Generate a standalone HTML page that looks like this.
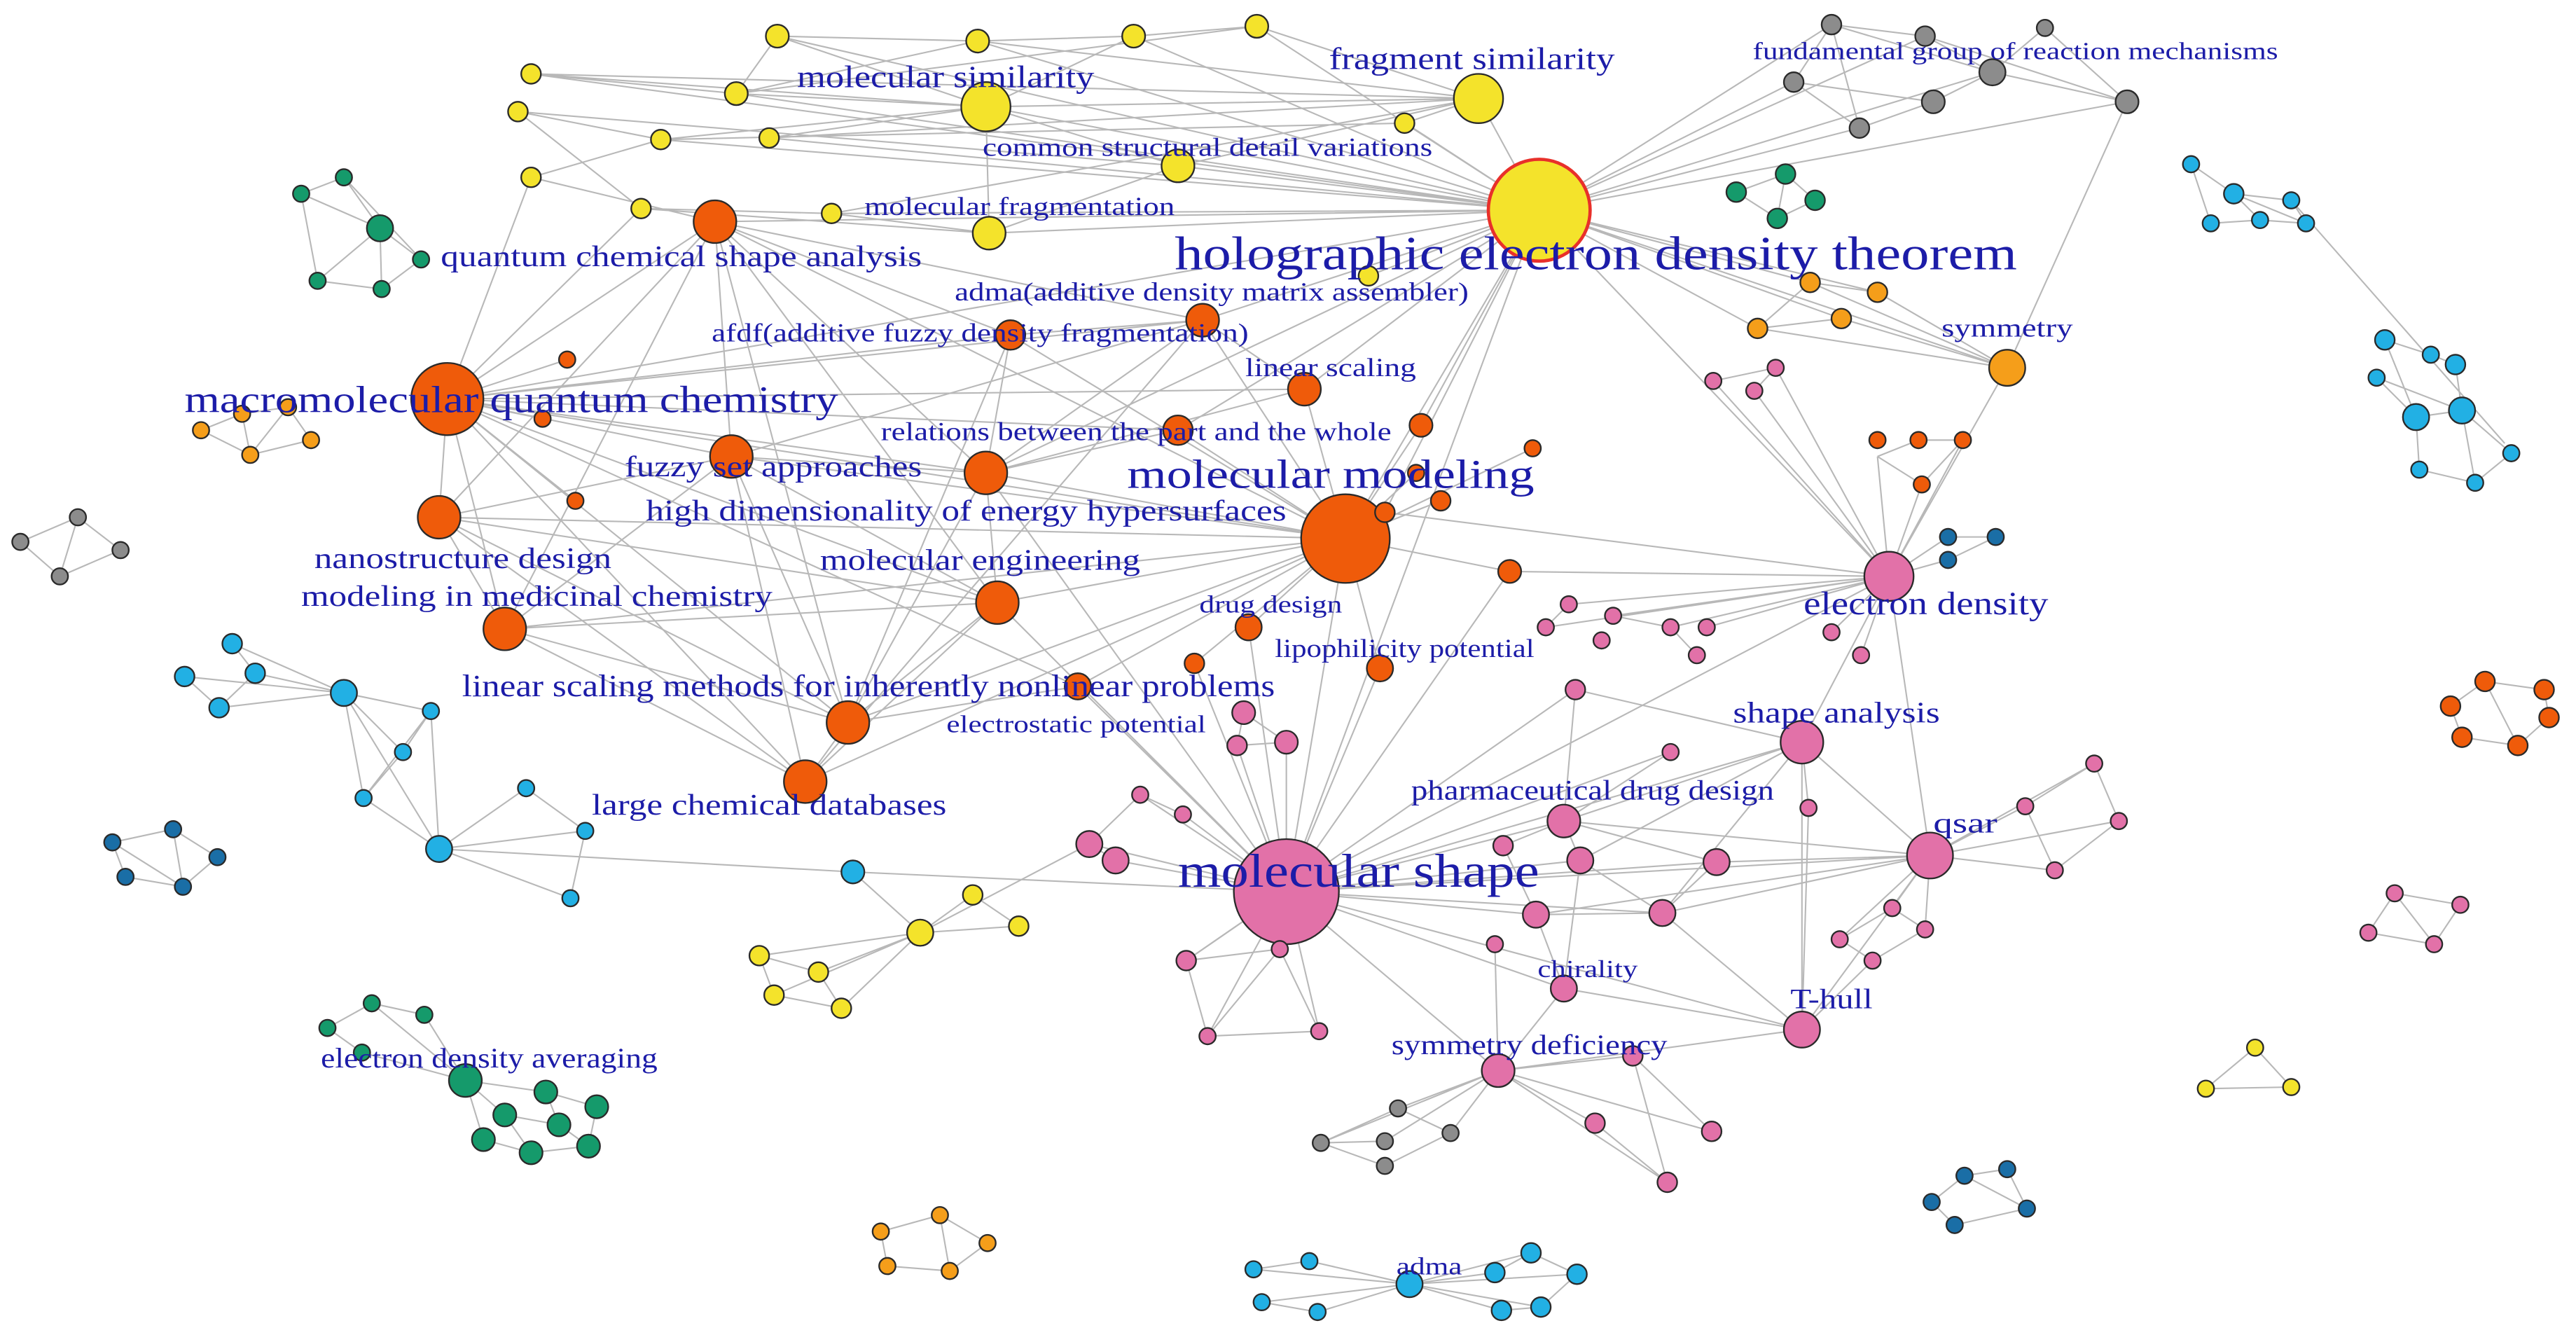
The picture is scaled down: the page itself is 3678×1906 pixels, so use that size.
<!DOCTYPE html>
<html><head><meta charset="utf-8"><style>
html,body{margin:0;padding:0;background:#fff;}
svg{display:block;}
text{font-family:"Liberation Serif",serif;fill:#1c1ca8;}
</style></head><body>
<svg width="3678" height="1906" viewBox="0 0 1568 813" xmlns="http://www.w3.org/2000/svg">
<g stroke="#b8b8b8" stroke-width="0.9" fill="none">
<path d="M937 128L473 22M937 128L595 25M937 128L690 22M937 128L765 16M937 128L600 65M937 128L900 60M937 128L717 101M937 128L855 75M937 128L602 142M937 128L506 130M937 128L448 57M937 128L1115 15M937 128L1172 22M937 128L1213 44M937 128L1295 62M937 128L1092 50M937 128L1132 78M937 128L1222 224M937 128L1102 172M937 128L1143 178M937 128L1070 200M937 128L1121 194M937 128L819 328M937 128L794 237M937 128L732 195M937 128L717 262M937 128L865 259M937 128L435 135M937 128L272 243M937 128L600 288M937 128L1150 351M937 128L843 312M937 128L402 85M937 128L468 84M937 128L833 168M937 128L323 45"/>
<path d="M473 22L595 25M595 25L690 22M690 22L765 16M473 22L448 57M448 57L600 65M600 65L900 60M323 45L448 57M323 45L600 65M315 68L402 85M402 85L600 65M468 84L600 65M600 65L717 101M717 101L900 60M900 60L855 75M765 16L900 60M595 25L900 60M473 22L600 65M315 68L390 127M390 127L506 130M506 130L602 142M602 142L717 101M323 108L435 135M323 108L402 85M390 127L602 142M448 57L765 16M323 45L900 60M315 68L717 101M402 85L855 75M468 84L900 60M506 130L900 60M600 65L602 142M690 22L600 65M595 25L448 57"/>
<path d="M1115 15L1172 22M1172 22L1213 44M1213 44L1245 17M1245 17L1295 62M1213 44L1295 62M1092 50L1132 78M1132 78L1177 62M1177 62L1213 44M1115 15L1132 78M1092 50L1177 62M1172 22L1295 62M1295 62L1222 224M1115 15L1213 44M1092 50L1115 15"/>
<path d="M1102 172L1143 178M1070 200L1121 194M1102 172L1222 224M1143 178L1222 224M1121 194L1222 224M1070 200L1222 224M1102 172L1070 200"/>
<path d="M1087 106L1057 117M1087 106L1105 122M1057 117L1082 133M1105 122L1082 133M1087 106L1082 133"/>
<path d="M272 243L435 135M272 243L267 315M272 243L445 278M272 243L600 288M272 243L307 383M272 243L607 367M272 243L615 204M272 243L516 440M272 243L490 476M272 243L819 328M272 243L732 195M272 243L345 219M272 243L330 255M272 243L350 305M272 243L717 262M272 243L656 418M272 243L794 237M272 243L390 127M272 243L323 108"/>
<path d="M435 135L615 204M435 135L445 278M435 135L307 383M435 135L600 288M435 135L516 440M435 135L819 328M435 135L732 195M435 135L607 367M267 315L445 278M267 315L490 476M267 315L516 440M267 315L607 367M267 315L819 328M307 383L490 476M307 383L516 440M307 383L607 367M307 383L819 328M307 383L445 278M445 278L600 288M445 278L516 440M445 278L490 476M445 278L819 328M445 278L607 367M600 288L607 367M600 288L819 328M600 288L516 440M600 288L732 195M607 367L819 328M607 367L516 440M607 367L490 476M516 440L819 328M490 476L819 328M615 204L732 195M615 204L819 328M732 195L794 237M732 195L819 328M794 237L819 328M717 262L819 328M865 259L819 328M877 305L819 328M919 348L819 328M760 382L819 328M840 407L819 328M727 404L819 328M656 418L819 328M862 288L819 328M933 273L819 328M615 204L600 288M717 262L600 288M732 195L445 278M794 237L600 288M656 418L516 440M490 476L516 440M267 315L435 135M307 383L267 315M615 204L516 440M732 195L490 476"/>
<path d="M783 543L819 328M783 543L600 288M783 543L607 367M783 543L760 382M783 543L727 404M783 543L656 418M783 543L840 407M783 543L1150 351M783 543L1097 452M783 543L1175 521M783 543L1097 627M783 543L952 602M783 543L912 652M783 543L952 500M783 543L962 524M783 543L935 557M783 543L1012 556M783 543L1045 525M783 543L663 514M783 543L679 524M783 543L694 484M783 543L720 496M783 543L722 585M783 543L735 631M783 543L803 628M783 543L779 578M783 543L753 454M783 543L783 452M783 543L919 348M783 543L937 128M783 543L959 420M783 543L1017 458M783 543L519 531"/>
<path d="M783 543L722 585M722 585L735 631M735 631L803 628M779 578L803 628M722 585L779 578M735 631L779 578"/>
<path d="M1150 351L1097 452M1150 351L1175 521M1150 351L1043 232M1150 351L1068 238M1150 351L1081 224M1150 351L941 382M1150 351L955 368M1150 351L982 375M1150 351L1017 382M1150 351L1039 382M1150 351L1143 278M1150 351L1170 295M1150 351L1195 268M1150 351L1186 327M1150 351L1186 341M1150 351L1222 224M1150 351L1115 385M1150 351L1133 399M1150 351L843 312M1150 351L919 348M1097 452L1175 521M1097 452L952 500M1097 452L1097 627M1097 452L962 524M1097 452L1012 556M1097 452L959 420M1097 452L1101 492M1175 521L952 500M1175 521L1097 627M1175 521L1012 556M1175 521L1045 525M1175 521L1233 491M1175 521L1275 465M1175 521L1251 530M1175 521L1290 500M1175 521L1152 553M1175 521L1172 566M1175 521L1120 572M1175 521L935 557M1097 627L952 602M1097 627L912 652M1097 627L1140 585M1097 627L1012 556M1097 627L1101 492M952 602L912 652M952 602L935 557M952 602L962 524M912 652L994 643M912 652L971 684M912 652L1015 720M912 652L1042 689M912 652L843 695M912 652L883 690M912 652L851 675M912 652L804 696M912 652L910 575M994 643L1042 689M994 643L1015 720M971 684L1015 720M843 695L804 696M883 690L851 675M883 690L843 710M843 710L804 696M851 675L804 696M1233 491L1275 465M1275 465L1290 500M1251 530L1290 500M1233 491L1251 530M1152 553L1172 566M1120 572L1140 585M1140 585L1172 566M1152 553L1120 572M952 500L1045 525M952 500L962 524M962 524L1012 556M935 557L1012 556M1045 525L1012 556M915 515L952 500M915 515L935 557M1017 458L952 500M959 420L952 500M1043 232L1081 224M1068 238L1081 224M941 382L955 368M982 375L1017 382M1033 399L1017 382M1143 278L1170 295M1170 295L1195 268M1195 268L1168 268M1143 278L1168 268M1186 327L1215 327M1186 341L1215 327M663 514L694 484M694 484L720 496M679 524L663 514M753 454L783 452M757 434L753 454M757 434L783 452"/>
<path d="M560 568L592 545M560 568L620 564M560 568L519 531M560 568L462 582M560 568L498 592M560 568L471 606M560 568L512 614M462 582L498 592M498 592L512 614M471 606L512 614M462 582L471 606M592 545L620 564M560 568L663 514"/>
<path d="M209 422L141 392M209 422L155 410M209 422L112 412M209 422L133 431M209 422L262 433M209 422L245 458M209 422L221 486M209 422L267 517M141 392L155 410M112 412L133 431M155 410L133 431M262 433L245 458M245 458L221 486M221 486L267 517M267 517L320 480M267 517L356 506M267 517L347 547M267 517L519 531M320 480L356 506M356 506L347 547M262 433L267 517M262 433L221 486"/>
<path d="M209 108L183 118M209 108L231 139M231 139L193 171M231 139L232 176M231 139L256 158M183 118L193 171M193 171L232 176M256 158L232 176M209 108L256 158M183 118L231 139"/>
<path d="M147 252L122 262M147 252L175 248M175 248L189 268M122 262L152 277M152 277L189 268M147 252L152 277M175 248L152 277"/>
<path d="M12 330L47 315M47 315L73 335M12 330L36 351M36 351L73 335M47 315L36 351"/>
<path d="M68 513L105 505M105 505L132 522M68 513L76 534M76 534L111 540M111 540L132 522M105 505L111 540M68 513L111 540"/>
<path d="M199 626L226 611M226 611L258 618M199 626L220 641M220 641L283 658M258 618L283 658M283 658L307 679M283 658L332 665M283 658L294 694M307 679L340 685M332 665L363 674M340 685L358 698M294 694L323 702M323 702L358 698M363 674L358 698M307 679L323 702M332 665L340 685M226 611L283 658"/>
<path d="M536 750L572 740M572 740L601 757M536 750L540 771M540 771L578 774M578 774L601 757M572 740L578 774"/>
<path d="M858 782L797 768M858 782L763 773M858 782L768 793M858 782L802 799M858 782L910 775M858 782L932 763M858 782L960 776M858 782L914 798M858 782L938 796M763 773L797 768M768 793L802 799M910 775L932 763M932 763L960 776M914 798L938 796M938 796L960 776"/>
<path d="M1196 716L1222 712M1222 712L1234 736M1176 732L1190 746M1190 746L1234 736M1176 732L1196 716M1196 716L1234 736"/>
<path d="M1373 638L1343 663M1373 638L1395 662M1343 663L1395 662"/>
<path d="M1442 568L1458 544M1458 544L1498 551M1442 568L1482 575M1482 575L1498 551M1458 544L1482 575"/>
<path d="M1513 415L1492 430M1513 415L1549 420M1492 430L1499 449M1499 449L1533 454M1533 454L1552 437M1549 420L1552 437M1513 415L1533 454"/>
<path d="M1334 100L1360 118M1360 118L1395 122M1346 136L1376 134M1395 122L1404 136M1376 134L1404 136M1334 100L1346 136M1360 118L1376 134M1360 118L1404 136M1395 122L1525 270"/>
<path d="M1452 207L1480 216M1480 216L1495 222M1447 230L1471 254M1471 254L1499 250M1499 250L1529 276M1473 286L1507 294M1507 294L1529 276M1452 207L1471 254M1495 222L1499 250M1471 254L1473 286M1499 250L1507 294M1447 230L1499 250"/>
</g>
<g stroke="#2a2a2a" stroke-width="1">
<g fill="#f4e32b">
<circle cx="473" cy="22" r="7"/><circle cx="595" cy="25" r="7"/><circle cx="690" cy="22" r="7"/><circle cx="765" cy="16" r="7"/><circle cx="323" cy="45" r="6"/><circle cx="448" cy="57" r="7"/><circle cx="600" cy="65" r="15"/><circle cx="900" cy="60" r="15"/><circle cx="315" cy="68" r="6"/><circle cx="402" cy="85" r="6"/><circle cx="468" cy="84" r="6"/><circle cx="717" cy="101" r="10"/><circle cx="855" cy="75" r="6"/><circle cx="390" cy="127" r="6"/><circle cx="506" cy="130" r="6"/><circle cx="602" cy="142" r="10"/><circle cx="323" cy="108" r="6"/><circle cx="833" cy="168" r="6"/>
<circle cx="560" cy="568" r="8"/><circle cx="592" cy="545" r="6"/><circle cx="620" cy="564" r="6"/><circle cx="462" cy="582" r="6"/><circle cx="498" cy="592" r="6"/><circle cx="471" cy="606" r="6"/><circle cx="512" cy="614" r="6"/>
<circle cx="1373" cy="638" r="5"/><circle cx="1343" cy="663" r="5"/><circle cx="1395" cy="662" r="5"/>
</g>
<circle cx="937" cy="128" r="31" fill="#f4e32b" stroke="#e8302a" stroke-width="2"/>
<g fill="#ef5b0a">
<circle cx="435" cy="135" r="13"/><circle cx="272" cy="243" r="22"/><circle cx="345" cy="219" r="5"/><circle cx="330" cy="255" r="5"/><circle cx="350" cy="305" r="5"/><circle cx="267" cy="315" r="13"/><circle cx="445" cy="278" r="13"/><circle cx="600" cy="288" r="13"/><circle cx="307" cy="383" r="13"/><circle cx="607" cy="367" r="13"/><circle cx="615" cy="204" r="9"/><circle cx="732" cy="195" r="10"/><circle cx="794" cy="237" r="10"/><circle cx="717" cy="262" r="9"/><circle cx="865" cy="259" r="7"/><circle cx="933" cy="273" r="5"/><circle cx="877" cy="305" r="6"/><circle cx="862" cy="288" r="5"/><circle cx="819" cy="328" r="27"/><circle cx="843" cy="312" r="6"/><circle cx="919" cy="348" r="7"/><circle cx="760" cy="382" r="8"/><circle cx="840" cy="407" r="8"/><circle cx="727" cy="404" r="6"/><circle cx="656" cy="418" r="8"/><circle cx="516" cy="440" r="13"/><circle cx="490" cy="476" r="13"/>
<circle cx="1143" cy="268" r="5"/><circle cx="1168" cy="268" r="5"/><circle cx="1170" cy="295" r="5"/><circle cx="1195" cy="268" r="5"/>
<circle cx="1513" cy="415" r="6"/><circle cx="1549" cy="420" r="6"/><circle cx="1492" cy="430" r="6"/><circle cx="1552" cy="437" r="6"/><circle cx="1499" cy="449" r="6"/><circle cx="1533" cy="454" r="6"/>
</g>
<g fill="#f59e1a">
<circle cx="1102" cy="172" r="6"/><circle cx="1143" cy="178" r="6"/><circle cx="1070" cy="200" r="6"/><circle cx="1121" cy="194" r="6"/><circle cx="1222" cy="224" r="11"/>
<circle cx="147" cy="252" r="5"/><circle cx="122" cy="262" r="5"/><circle cx="175" cy="248" r="5"/><circle cx="189" cy="268" r="5"/><circle cx="152" cy="277" r="5"/>
<circle cx="536" cy="750" r="5"/><circle cx="572" cy="740" r="5"/><circle cx="601" cy="757" r="5"/><circle cx="540" cy="771" r="5"/><circle cx="578" cy="774" r="5"/>
</g>
<g fill="#8c8c8c">
<circle cx="1115" cy="15" r="6"/><circle cx="1172" cy="22" r="6"/><circle cx="1245" cy="17" r="5"/><circle cx="1213" cy="44" r="8"/><circle cx="1092" cy="50" r="6"/><circle cx="1132" cy="78" r="6"/><circle cx="1177" cy="62" r="7"/><circle cx="1295" cy="62" r="7"/>
<circle cx="12" cy="330" r="5"/><circle cx="47" cy="315" r="5"/><circle cx="73" cy="335" r="5"/><circle cx="36" cy="351" r="5"/>
<circle cx="843" cy="695" r="5"/><circle cx="883" cy="690" r="5"/><circle cx="851" cy="675" r="5"/><circle cx="804" cy="696" r="5"/><circle cx="843" cy="710" r="5"/>
</g>
<g fill="#159a6b">
<circle cx="1087" cy="106" r="6"/><circle cx="1057" cy="117" r="6"/><circle cx="1105" cy="122" r="6"/><circle cx="1082" cy="133" r="6"/>
<circle cx="209" cy="108" r="5"/><circle cx="183" cy="118" r="5"/><circle cx="231" cy="139" r="8"/><circle cx="193" cy="171" r="5"/><circle cx="232" cy="176" r="5"/><circle cx="256" cy="158" r="5"/>
<circle cx="199" cy="626" r="5"/><circle cx="226" cy="611" r="5"/><circle cx="258" cy="618" r="5"/><circle cx="220" cy="641" r="5"/><circle cx="283" cy="658" r="10"/><circle cx="307" cy="679" r="7"/><circle cx="332" cy="665" r="7"/><circle cx="294" cy="694" r="7"/><circle cx="340" cy="685" r="7"/><circle cx="363" cy="674" r="7"/><circle cx="323" cy="702" r="7"/><circle cx="358" cy="698" r="7"/>
</g>
<g fill="#22b0e4">
<circle cx="209" cy="422" r="8"/><circle cx="141" cy="392" r="6"/><circle cx="155" cy="410" r="6"/><circle cx="112" cy="412" r="6"/><circle cx="133" cy="431" r="6"/><circle cx="262" cy="433" r="5"/><circle cx="245" cy="458" r="5"/><circle cx="221" cy="486" r="5"/><circle cx="267" cy="517" r="8"/><circle cx="320" cy="480" r="5"/><circle cx="356" cy="506" r="5"/><circle cx="347" cy="547" r="5"/><circle cx="519" cy="531" r="7"/>
<circle cx="858" cy="782" r="8"/><circle cx="797" cy="768" r="5"/><circle cx="763" cy="773" r="5"/><circle cx="768" cy="793" r="5"/><circle cx="802" cy="799" r="5"/><circle cx="910" cy="775" r="6"/><circle cx="932" cy="763" r="6"/><circle cx="960" cy="776" r="6"/><circle cx="914" cy="798" r="6"/><circle cx="938" cy="796" r="6"/>
<circle cx="1334" cy="100" r="5"/><circle cx="1360" cy="118" r="6"/><circle cx="1395" cy="122" r="5"/><circle cx="1346" cy="136" r="5"/><circle cx="1376" cy="134" r="5"/><circle cx="1404" cy="136" r="5"/>
<circle cx="1452" cy="207" r="6"/><circle cx="1480" cy="216" r="5"/><circle cx="1495" cy="222" r="6"/><circle cx="1447" cy="230" r="5"/><circle cx="1471" cy="254" r="8"/><circle cx="1499" cy="250" r="8"/><circle cx="1529" cy="276" r="5"/><circle cx="1473" cy="286" r="5"/><circle cx="1507" cy="294" r="5"/>
</g>
<g fill="#1a6ea6">
<circle cx="68" cy="513" r="5"/><circle cx="105" cy="505" r="5"/><circle cx="132" cy="522" r="5"/><circle cx="76" cy="534" r="5"/><circle cx="111" cy="540" r="5"/>
<circle cx="1196" cy="716" r="5"/><circle cx="1222" cy="712" r="5"/><circle cx="1234" cy="736" r="5"/><circle cx="1176" cy="732" r="5"/><circle cx="1190" cy="746" r="5"/>
<circle cx="1186" cy="327" r="5"/><circle cx="1215" cy="327" r="5"/><circle cx="1186" cy="341" r="5"/>
</g>
<g fill="#e271a8">
<circle cx="783" cy="543" r="32"/><circle cx="1150" cy="351" r="15"/><circle cx="1097" cy="452" r="13"/><circle cx="1175" cy="521" r="14"/><circle cx="1097" cy="627" r="11"/><circle cx="952" cy="602" r="8"/><circle cx="912" cy="652" r="10"/>
<circle cx="1043" cy="232" r="5"/><circle cx="1068" cy="238" r="5"/><circle cx="1081" cy="224" r="5"/>
<circle cx="941" cy="382" r="5"/><circle cx="955" cy="368" r="5"/><circle cx="982" cy="375" r="5"/><circle cx="1017" cy="382" r="5"/><circle cx="1039" cy="382" r="5"/><circle cx="1033" cy="399" r="5"/><circle cx="975" cy="390" r="5"/><circle cx="1115" cy="385" r="5"/><circle cx="1133" cy="399" r="5"/>
<circle cx="959" cy="420" r="6"/><circle cx="1017" cy="458" r="5"/><circle cx="1101" cy="492" r="5"/>
<circle cx="952" cy="500" r="10"/><circle cx="962" cy="524" r="8"/><circle cx="935" cy="557" r="8"/><circle cx="1012" cy="556" r="8"/><circle cx="1045" cy="525" r="8"/><circle cx="915" cy="515" r="6"/><circle cx="910" cy="575" r="5"/>
<circle cx="757" cy="434" r="7"/><circle cx="783" cy="452" r="7"/><circle cx="753" cy="454" r="6"/>
<circle cx="663" cy="514" r="8"/><circle cx="679" cy="524" r="8"/><circle cx="694" cy="484" r="5"/><circle cx="720" cy="496" r="5"/>
<circle cx="722" cy="585" r="6"/><circle cx="779" cy="578" r="5"/><circle cx="735" cy="631" r="5"/><circle cx="803" cy="628" r="5"/>
<circle cx="1233" cy="491" r="5"/><circle cx="1275" cy="465" r="5"/><circle cx="1290" cy="500" r="5"/><circle cx="1251" cy="530" r="5"/>
<circle cx="1152" cy="553" r="5"/><circle cx="1172" cy="566" r="5"/><circle cx="1120" cy="572" r="5"/><circle cx="1140" cy="585" r="5"/>
<circle cx="994" cy="643" r="6"/><circle cx="971" cy="684" r="6"/><circle cx="1015" cy="720" r="6"/><circle cx="1042" cy="689" r="6"/>
<circle cx="1458" cy="544" r="5"/><circle cx="1498" cy="551" r="5"/><circle cx="1442" cy="568" r="5"/><circle cx="1482" cy="575" r="5"/>
</g>
</g>
<g lengthAdjust="spacingAndGlyphs">
<text x="485" y="53" font-size="19" textLength="181" lengthAdjust="spacingAndGlyphs">molecular similarity</text>
<text x="809" y="42" font-size="19" textLength="174" lengthAdjust="spacingAndGlyphs">fragment similarity</text>
<text x="1067" y="36" font-size="15" textLength="320" lengthAdjust="spacingAndGlyphs">fundamental group of reaction mechanisms</text>
<text x="598" y="95" font-size="16" textLength="274" lengthAdjust="spacingAndGlyphs">common structural detail variations</text>
<text x="526" y="131" font-size="16" textLength="189" lengthAdjust="spacingAndGlyphs">molecular fragmentation</text>
<text x="715" y="164" font-size="29" textLength="513" lengthAdjust="spacingAndGlyphs">holographic electron density theorem</text>
<text x="268" y="162" font-size="18" textLength="293" lengthAdjust="spacingAndGlyphs">quantum chemical shape analysis</text>
<text x="581" y="183" font-size="16" textLength="313" lengthAdjust="spacingAndGlyphs">adma(additive density matrix assembler)</text>
<text x="433" y="208" font-size="16" textLength="327" lengthAdjust="spacingAndGlyphs">afdf(additive fuzzy density fragmentation)</text>
<text x="1182" y="205" font-size="16" textLength="80" lengthAdjust="spacingAndGlyphs">symmetry</text>
<text x="758" y="229" font-size="16" textLength="104" lengthAdjust="spacingAndGlyphs">linear scaling</text>
<text x="112" y="251" font-size="23" textLength="398" lengthAdjust="spacingAndGlyphs">macromolecular quantum chemistry</text>
<text x="536" y="268" font-size="16" textLength="311" lengthAdjust="spacingAndGlyphs">relations between the part and the whole</text>
<text x="380" y="290" font-size="18" textLength="181" lengthAdjust="spacingAndGlyphs">fuzzy set approaches</text>
<text x="686" y="297" font-size="25" textLength="248" lengthAdjust="spacingAndGlyphs">molecular modeling</text>
<text x="393" y="317" font-size="18" textLength="390" lengthAdjust="spacingAndGlyphs">high dimensionality of energy hypersurfaces</text>
<text x="191" y="346" font-size="18" textLength="181" lengthAdjust="spacingAndGlyphs">nanostructure design</text>
<text x="499" y="347" font-size="18" textLength="195" lengthAdjust="spacingAndGlyphs">molecular engineering</text>
<text x="183" y="369" font-size="18" textLength="287" lengthAdjust="spacingAndGlyphs">modeling in medicinal chemistry</text>
<text x="730" y="373" font-size="15" textLength="87" lengthAdjust="spacingAndGlyphs">drug design</text>
<text x="1098" y="374" font-size="20" textLength="149" lengthAdjust="spacingAndGlyphs">electron density</text>
<text x="776" y="400" font-size="16" textLength="158" lengthAdjust="spacingAndGlyphs">lipophilicity potential</text>
<text x="281" y="424" font-size="19" textLength="495" lengthAdjust="spacingAndGlyphs">linear scaling methods for inherently nonlinear problems</text>
<text x="1055" y="440" font-size="18" textLength="126" lengthAdjust="spacingAndGlyphs">shape analysis</text>
<text x="576" y="446" font-size="15" textLength="158" lengthAdjust="spacingAndGlyphs">electrostatic potential</text>
<text x="859" y="487" font-size="17" textLength="221" lengthAdjust="spacingAndGlyphs">pharmaceutical drug design</text>
<text x="360" y="496" font-size="18" textLength="216" lengthAdjust="spacingAndGlyphs">large chemical databases</text>
<text x="1177" y="507" font-size="17" textLength="39" lengthAdjust="spacingAndGlyphs">qsar</text>
<text x="717" y="540" font-size="29" textLength="220" lengthAdjust="spacingAndGlyphs">molecular shape</text>
<text x="936" y="595" font-size="15" textLength="61" lengthAdjust="spacingAndGlyphs">chirality</text>
<text x="1090" y="614" font-size="17" textLength="50" lengthAdjust="spacingAndGlyphs">T-hull</text>
<text x="847" y="642" font-size="17" textLength="168" lengthAdjust="spacingAndGlyphs">symmetry deficiency</text>
<text x="195" y="650" font-size="17" textLength="205" lengthAdjust="spacingAndGlyphs">electron density averaging</text>
<text x="850" y="776" font-size="15" textLength="40" lengthAdjust="spacingAndGlyphs">adma</text>
</g>
</svg>
</body></html>
